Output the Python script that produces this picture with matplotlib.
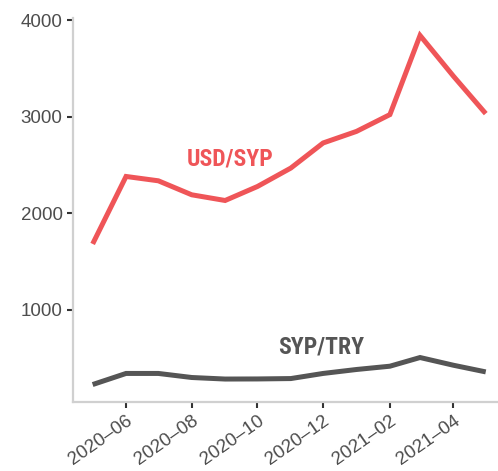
import matplotlib
matplotlib.use("Agg")
import matplotlib.pyplot as plt
import matplotlib.dates as mdates
import datetime as dt

months = ["2020-05", "2020-06", "2020-07", "2020-08", "2020-09", "2020-10", "2020-11",
          "2020-12", "2021-01", "2021-02", "2021-03", "2021-04", "2021-05"]
usd_syp = [1682, 2381, 2336, 2191, 2132, 2277, 2468, 2728, 2848, 3022, 3842, 3420, 3032]
syp_try = [225, 340, 340, 298, 282, 283, 287, 340, 381, 415, 505, 425, 356]
x_ticks = ["2020-06", "2020-08", "2020-10", "2020-12", "2021-02", "2021-04"]
y_ticks = [1000, 2000, 3000, 4000]

plt.rcParams["font.family"] = ["Liberation Sans", "DejaVu Sans"]
label_family = ["Roboto Condensed", "Liberation Sans", "DejaVu Sans"]

dates = [dt.datetime.strptime(m, "%Y-%m") for m in months]
tick_dates = [dt.datetime.strptime(m, "%Y-%m") for m in x_ticks]

fig = plt.figure(figsize=(4.98, 4.71), dpi=100)
ax = fig.add_axes([73 / 498, 69 / 471, (505.4 - 73) / 498, (402 - 18) / 471])

red = "#EF5558"
dark = "#555555"
ax.plot(dates, usd_syp, color=red, lw=3.6, solid_joinstyle="miter", solid_capstyle="butt")
ax.plot(dates, syp_try, color=dark, lw=3.6, solid_joinstyle="miter", solid_capstyle="butt")

span = dates[-1] - dates[0]
pad = span * 0.05
ax.set_xlim(mdates.date2num(dates[0] - pad), mdates.date2num(dates[-1] + pad))
lo, hi = min(syp_try), max(usd_syp)
ax.set_ylim(lo - (hi - lo) * 0.05, hi + (hi - lo) * 0.05)

ax.set_xticks(mdates.date2num(tick_dates))
ax.set_xticklabels([t.replace("-", "\u2013") for t in x_ticks], rotation=35,
                   ha="right", rotation_mode="anchor", fontsize=13.5, color="#4d4d4d")
ax.set_yticks(y_ticks)
ax.set_yticklabels([str(v) for v in y_ticks], fontsize=13.5, color="#4d4d4d")

for s in ["top", "right"]:
    ax.spines[s].set_visible(False)
for s in ["left", "bottom"]:
    ax.spines[s].set_color("#d0d0d0")
    ax.spines[s].set_linewidth(1.6)
ax.tick_params(axis="both", direction="out", length=4.5, width=1.5, color="#333333", pad=3)

ax.text(mdates.date2num(dt.datetime(2020, 9, 6)), 2565, "USD/SYP", color=red,
        fontsize=17, fontweight="bold", family=label_family,
        ha="center", va="center")
ax.text(mdates.date2num(dt.datetime(2020, 11, 29)), 611, "SYP/TRY", color=dark,
        fontsize=17, fontweight="bold", family=label_family,
        ha="center", va="center")

fig.savefig("out.png", dpi=100)
